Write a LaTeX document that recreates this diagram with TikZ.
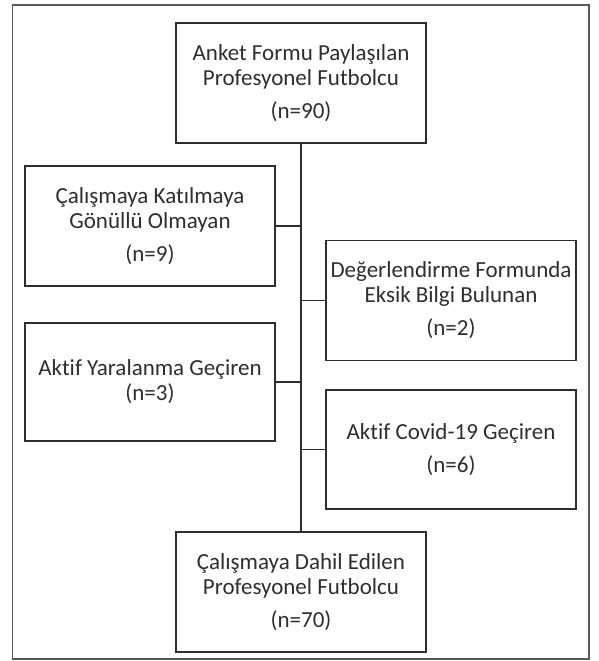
\documentclass[tikz,border=0pt]{standalone}
\usepackage{fontspec}
\setmainfont{Carlito}[Ligatures={NoCommon}]
\definecolor{ink}{HTML}{2E2E2E}
\definecolor{frame}{HTML}{5A5A5A}
\begin{document}
\begin{tikzpicture}[x=1pt,y=-1pt,
  box/.style={draw=ink,line width=1.5pt,minimum width=250pt,minimum height=120pt,
    align=center,inner sep=0pt,text=ink,font=\fontsize{23}{25}\selectfont},
  link/.style={draw=ink,line width=1.5pt}]
\useasboundingbox (0,0) rectangle (598,661);
\draw[frame,line width=1.5pt] (12.5,5) rectangle (589,659);
\node[box] (top) at (301,83) {Anket Formu Paylaşılan\\Profesyonel Futbolcu\\[8pt](n=90)};
\node[box] (l1) at (150,226) {Çalışmaya Katılmaya\\Gönüllü Olmayan\\[8pt](n=9)};
\node[box] (r1) at (451,300.5) {Değerlendirme Formunda\\Eksik Bilgi Bulunan\\[8pt](n=2)};
\node[box,minimum height=118pt] (l2) at (150,382) {Aktif Yaralanma Geçiren\\(n=3)};
\node[box,minimum height=119pt] (r2) at (451,449.5) {Aktif Covid-19 Geçiren\\[8pt](n=6)};
\node[box] (bot) at (301,592) {Çalışmaya Dahil Edilen\\Profesyonel Futbolcu\\[8pt](n=70)};
\draw[link] (top.south) -- (bot.north);
\draw[link] (l1.east) -- (l1.east -| top.south);
\draw[link] (r1.west) -- (r1.west -| top.south);
\draw[link] (l2.east) -- (l2.east -| top.south);
\draw[link] (r2.west) -- (r2.west -| top.south);
\end{tikzpicture}
\end{document}
